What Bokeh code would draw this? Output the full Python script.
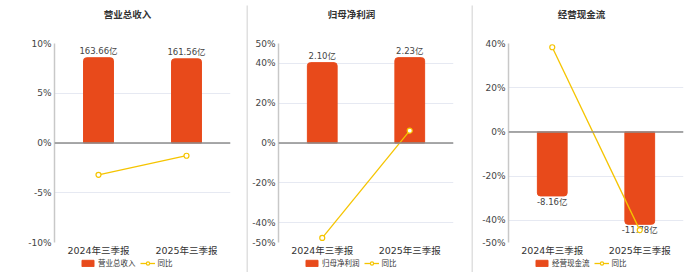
from bokeh.plotting import figure
from bokeh.models import (Range1d, FixedTicker, PrintfTickFormatter, Span, Legend,
                          LegendItem, ColumnDataSource, FactorRange, Label)
from bokeh.layouts import row, column
from bokeh.embed import file_html
from bokeh.resources import INLINE
from bokeh.core.properties import value

periods = ["2024年三季报", "2025年三季报"]
titles = ["营业总收入", "归母净利润", "经营现金流"]
revenue = [163.66, 161.56]
revenue_yoy = [-3.2, -1.28]
profit = [2.10, 2.23]
profit_yoy = [-47.7, 6.19]
cashflow = [-8.16, -11.78]
cashflow_yoy = [38.3, -44.4]
pct_ticks = [[-10, -5, 0, 5, 10], [-50, -40, -20, 0, 20, 40, 50], [-50, -40, -20, 0, 20, 40]]
pct_ranges = [(-10, 10), (-50, 50), (-50, 40)]
amt_ranges = [(-191, 191), (-2.6, 2.6), (-14.1, 11.28)]

BAR = "#E84A1B"
LINE = "#F5C400"
LATIN = "DejaVu Sans, Noto Sans CJK SC"
CJK = "Noto Sans CJK SC"


def blank(width, height):
    f = figure(width=width, height=height, output_backend="svg", toolbar_location=None,
               x_axis_type=None, y_axis_type=None, min_border=0,
               x_range=Range1d(0, 1), y_range=Range1d(0, 1))
    f.outline_line_color = None
    f.xgrid.grid_line_color = None
    f.ygrid.grid_line_color = None
    f.title.text = ""
    return f


def panel(title, amounts, yoy, ticks, prange, arange, width, left, right):
    # title strip (its frame is aligned with the plot frame below)
    t = blank(width, 28)
    t.add_layout(Label(x=73, y=15, x_units="screen", y_units="screen",
                       text=title, text_align="center", text_baseline="middle",
                       text_font=CJK, text_font_size="9.5px", text_font_style="bold",
                       text_color="#333333"))

    p = figure(width=width, height=230, x_range=FactorRange(factors=periods),
               y_range=Range1d(*prange), output_backend="svg", toolbar_location=None,
               min_border_left=left, min_border_right=right, min_border_top=15,
               min_border_bottom=14)
    p.title.text = ""
    p.extra_y_ranges = {"amt": Range1d(*arange)}
    p.outline_line_color = None
    p.background_fill_color = "white"
    p.border_fill_color = "white"

    p.xgrid.grid_line_color = None
    p.ygrid.grid_line_color = "#e6e9f2"
    p.ygrid.grid_line_width = 1
    p.yaxis.ticker = FixedTicker(ticks=ticks)
    p.yaxis.formatter = PrintfTickFormatter(format="%d%%")
    p.yaxis.axis_line_color = "#c8c8c8"
    p.yaxis.axis_line_width = 1.5
    p.yaxis.major_tick_line_color = None
    p.yaxis.minor_tick_line_color = None
    p.yaxis.major_tick_out = 0
    p.yaxis.major_tick_in = 0
    p.yaxis.minor_tick_out = 0
    p.yaxis.major_label_text_font = LATIN
    p.yaxis.major_label_text_font_size = "9px"
    p.yaxis.major_label_text_color = "#444444"
    p.yaxis.major_label_standoff = 3

    p.xaxis.axis_line_color = None
    p.xaxis.major_tick_line_color = None
    p.xaxis.minor_tick_line_color = None
    p.xaxis.major_tick_out = 0
    p.xaxis.major_tick_in = 0
    p.xaxis.major_label_text_font = LATIN
    p.xaxis.major_label_text_font_size = "9.5px"
    p.xaxis.major_label_text_color = "#333333"
    p.xaxis.major_label_standoff = 2

    p.add_layout(Span(location=0, dimension="width", line_color="#8c8c8c", line_width=1.5))

    neg = amounts[0] < 0
    src = ColumnDataSource(dict(x=periods, amt=amounts, yoy=yoy,
                                lab=[f"{v:.2f}亿" for v in amounts]))
    radius = (0, 0, 3, 3) if neg else (3, 3, 0, 0)
    p.vbar(x="x", top="amt", bottom=0, width=0.34, source=src, y_range_name="amt",
           fill_color=BAR, line_color=BAR, border_radius=radius)
    p.text(x="x", y="amt", text="lab", source=src, y_range_name="amt",
           text_align="center", text_baseline="top" if neg else "bottom",
           y_offset=1 if neg else -2, text_font=value(LATIN), text_font_size="8.5px",
           text_color="#444444")
    p.line(x="x", y="yoy", source=src, line_color=LINE, line_width=1.3)
    p.scatter(x="x", y="yoy", source=src, marker="circle", size=5,
              fill_color="white", line_color=LINE, line_width=1.2)

    # legend strip: legend-only placeholder glyphs (kept outside the visible range)
    lg = blank(width, 14)
    hidden = ColumnDataSource(dict(x=[-5], y=[-5]))
    lb = lg.vbar(x="x", top="y", width=0.1, source=hidden,
                 fill_color=BAR, line_color=BAR, border_radius=2)
    ll = lg.line(x="x", y="y", source=hidden, line_color=LINE, line_width=1.3)
    ls = lg.scatter(x="x", y="y", source=hidden, marker="circle", size=7,
                    fill_color="white", line_color=LINE, line_width=1.2)
    leg = Legend(items=[LegendItem(label=title, renderers=[lb]),
                        LegendItem(label="同比", renderers=[ll, ls])],
                 location=(26, 4), orientation="horizontal")
    leg.label_text_font = CJK
    leg.label_text_font_size = "7.5px"
    leg.label_text_color = "#333333"
    leg.glyph_width = 15
    leg.glyph_height = 8
    leg.label_height = 8
    leg.label_standoff = 3
    leg.spacing = 4
    leg.padding = 0
    leg.margin = 0
    leg.border_line_color = None
    leg.background_fill_alpha = 0
    lg.add_layout(leg)
    return column(t, p, lg, spacing=0)


def separator():
    s = figure(width=2, height=272, output_backend="svg", toolbar_location=None,
               x_axis_type=None, y_axis_type=None, min_border=0, min_border_top=5,
               x_range=Range1d(0, 1), y_range=Range1d(0, 1))
    s.title.text = ""
    s.background_fill_color = "#e0e0e0"
    s.border_fill_color = "white"
    s.outline_line_color = None
    s.xgrid.grid_line_color = None
    s.ygrid.grid_line_color = None
    return s


c1 = panel(titles[0], revenue, revenue_yoy, pct_ticks[0], pct_ranges[0], amt_ranges[0], 246, 54, 16)
c2 = panel(titles[1], profit, profit_yoy, pct_ticks[1], pct_ranges[1], amt_ranges[1], 223, 30, 18)
c3 = panel(titles[2], cashflow, cashflow_yoy, pct_ticks[2], pct_ranges[2], amt_ranges[2], 227, 35, 17)

layout = row(c1, separator(), c2, separator(), c3, spacing=0)
open("out.html", "w").write(file_html(layout, INLINE))
